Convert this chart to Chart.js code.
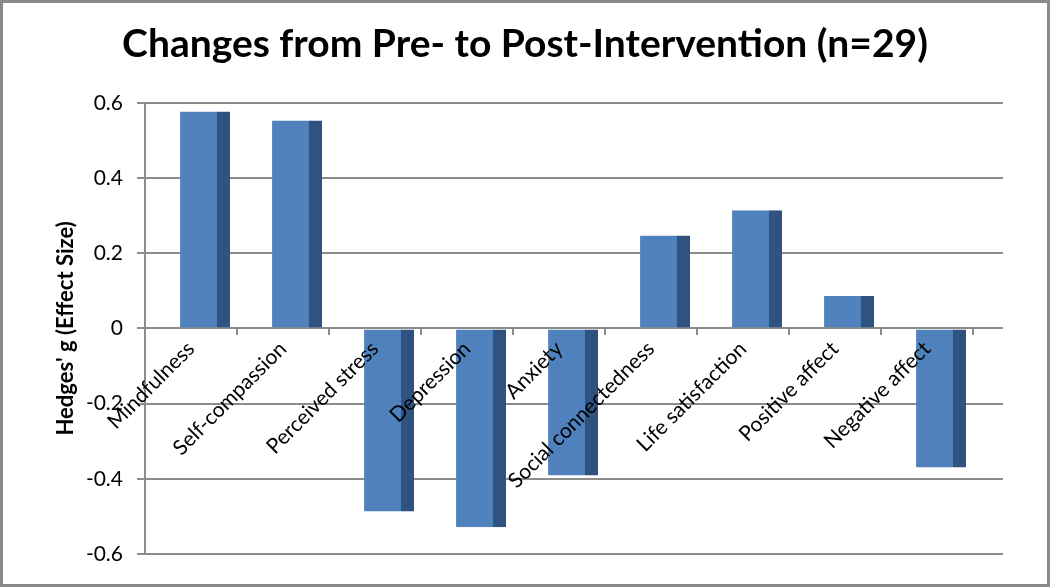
<!DOCTYPE html>
<html>
<head>
<meta charset="utf-8">
<script src="https://cdn.jsdelivr.net/npm/chart.js@4/dist/chart.umd.min.js"></script>
<style>
  html, body { margin: 0; padding: 0; background: #fff; }
  #wrap { width: 1050px; height: 587px; }
</style>
</head>
<body>
<div id="wrap"><canvas id="effectChart" width="1050" height="587"></canvas></div>
<script>
// data
const categories = [
  "Mindfulness", "Self-compassion", "Perceived stress", "Depression", "Anxiety",
  "Social connectedness", "Life satisfaction", "Positive affect", "Negative affect"
];
const hedgesG = [0.577, 0.553, -0.487, -0.529, -0.391, 0.247, 0.314, 0.086, -0.37];
const yTicks = [-0.6, -0.4, -0.2, 0, 0.2, 0.4, 0.6];
// empty slot so the 3D-looking bar sits right of the category centre
const depthSpacer = categories.map(() => null);

const gridColor = "#8c8c8c";
const frontBlue = "#4f81bd";
const sideBlue = "#30527f";

// back wall gridlines run a bit further right than the category axis
const wallExtend = {
  id: "wallExtend",
  beforeDatasetsDraw(chart) {
    const { ctx, chartArea, scales } = chart;
    ctx.save();
    ctx.strokeStyle = gridColor;
    ctx.lineWidth = 2;
    yTicks.forEach(v => {
      const y = Math.round(scales.y.getPixelForValue(v));
      ctx.beginPath();
      ctx.moveTo(chartArea.right, y);
      ctx.lineTo(chartArea.right + 30, y);
      ctx.stroke();
    });
    ctx.restore();
  }
};

const frame = {
  id: "frame",
  afterDraw(chart) {
    const ctx = chart.ctx;
    ctx.save();
    ctx.strokeStyle = "#8a8a8a";
    ctx.lineWidth = 3;
    ctx.strokeRect(1.5, 1.5, chart.width - 3, chart.height - 3);
    ctx.restore();
  }
};

new Chart(document.getElementById("effectChart"), {
  type: "bar",
  data: {
    labels: categories,
    datasets: [
      { label: "spacer", data: depthSpacer },
      {
        label: "Hedges' g",
        data: hedgesG,
        backgroundColor: frontBlue,
        borderColor: sideBlue,
        borderWidth: { left: 0, right: 13, top: 0, bottom: 0 },
        borderSkipped: false
      }
    ]
  },
  options: {
    responsive: false,
    animation: false,
    categoryPercentage: 0.61,
    barPercentage: 1.78,
    layout: { padding: { left: 77, right: 77, top: 0, bottom: 33 } },
    plugins: {
      legend: { display: false },
      tooltip: { enabled: false },
      title: {
        display: true,
        text: "Changes from Pre- to Post-Intervention (n=29)",
        color: "#000",
        font: { family: "Lato", size: 39, weight: "bold" },
        padding: { top: 21, bottom: 35 }
      }
    },
    scales: {
      x: {
        position: { y: 0 },
        border: { color: gridColor, width: 2 },
        grid: { offset: true, drawOnChartArea: false, drawTicks: true, tickLength: 6, color: gridColor, lineWidth: 2 },
        ticks: {
          z: 1,
          autoSkip: false,
          minRotation: 45,
          maxRotation: 45,
          padding: 2,
          color: "#000",
          font: { family: "Lato", size: 21 }
        }
      },
      y: {
        min: -0.6,
        max: 0.6,
        afterFit: s => { s.width = 68; },
        border: { color: gridColor, width: 2 },
        grid: { color: gridColor, lineWidth: 2, tickLength: 8 },
        afterBuildTicks: s => { s.ticks = yTicks.map(v => ({ value: v })); },
        ticks: {
          color: "#000",
          padding: 14,
          font: { family: "Lato", size: 21 },
          callback: v => (v === 0 ? "0" : v.toFixed(1))
        },
        title: {
          display: true,
          text: "Hedges' g (Effect Size)",
          color: "#000",
          font: { family: "Lato", size: 22, weight: "bold" },
          padding: { top: -24, bottom: 0 }
        }
      }
    }
  },
  plugins: [wallExtend, frame]
});
</script>
</body>
</html>
